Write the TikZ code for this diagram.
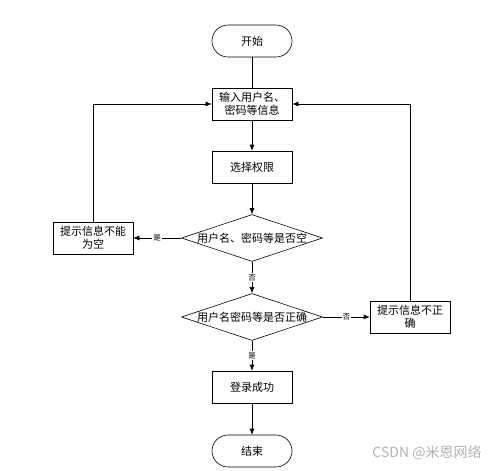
\documentclass[tikz,border=0pt]{standalone}
\usepackage{fontspec}
\setmainfont{Noto Sans CJK SC}
\usetikzlibrary{positioning,arrows.meta,shapes.geometric}

\begin{document}
\begin{tikzpicture}[
    x=1pt, y=-1pt,
    >={Latex[length=6pt,width=5pt]},
    line width=0.6pt,
    term/.style={draw, rounded corners=16pt, minimum width=80pt, minimum height=32pt, font=\fontsize{11}{13}\selectfont},
    proc/.style={draw, minimum width=80pt, minimum height=32pt, inner sep=1pt, align=center, font=\fontsize{11}{13}\selectfont},
    cond/.style={draw, diamond, minimum width=141pt, minimum height=47pt, inner sep=0pt, font=\fontsize{11}{13}\selectfont},
    tag/.style={fill=white, inner sep=1pt, font=\fontsize{7.5}{8}\selectfont}
]
\useasboundingbox (0,0) rectangle (499,471);

% Column positions
\def\colL{93}
\def\colM{252}
\def\colR{410}

% === Main column ===
\node[term] (start) at (\colM, 41) {开始};
\node[proc] (input) at (\colM, 104) {输入用户名、\\密码等信息};
\node[proc] (role) at (\colM, 167) {选择权限};
\node[cond] (empty) at (\colM, 238) {\makebox[0pt]{用户名、密码等是否空}};
\node[cond] (check) at (\colM, 317) {\makebox[0pt]{用户名密码等是否正确}};
\node[proc] (ok) at (\colM, 387) {登录成功};
\node[term] (stop) at (\colM, 451) {结束};

% === Side boxes ===
\node[proc] (warnL) at (\colL, 238) {提示信息不能\\为空};
\node[proc] (warnR) at (\colR, 317) {提示信息不正\\确};

% === Flow ===
\draw (start) -- (input);
\draw[->] (input) -- (role);
\draw[->] (role) -- (empty);
\draw[->] (empty) -- node[tag] {否} (check);
\draw[->] (check) -- node[tag] {是} (ok);
\draw[->] (ok) -- (stop);

% === Branches back to input ===
\draw[->] (empty) -- node[tag] {是} (warnL);
\draw[->] (check) -- node[tag] {否} (warnR);
\draw[->] (warnL.north) |- (input.west);
\draw[->] (warnR.north) |- (input.east);

% Watermark
\node[text=gray!60, font=\fontsize{14}{16}\selectfont] (mark) at (427, 453) {CSDN @米恩网络};
\end{tikzpicture}
\end{document}
